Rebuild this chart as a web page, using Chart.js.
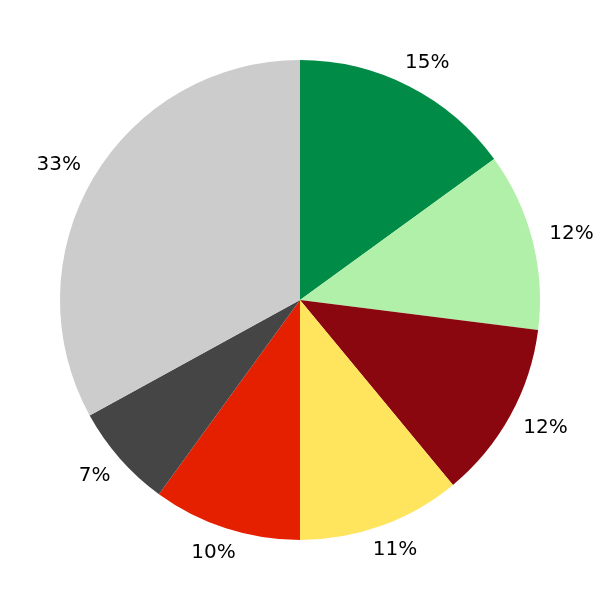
<!DOCTYPE html>
<html>
<head>
<meta charset="utf-8">
<script src="https://cdn.jsdelivr.net/npm/chart.js@4"></script>
<style>
  html, body { margin:0; padding:0; background:#fff; }
  #wrap { width:600px; height:600px; }
</style>
</head>
<body>
<div id="wrap"><canvas id="pie"></canvas></div>
<script>
// valores (sentido horário a partir do topo)
const sliceLabels = ['15%', '12%', '12%', '11%', '10%', '7%', '33%'];
const sliceValues = [15, 12, 12, 11, 10, 7, 33];
const sliceColors = ['#008c46', '#b0f0a8', '#8b0710', '#ffe45e', '#e52000', '#454545', '#cccccc'];

// rótulos fora da pizza: a caixa do texto encosta num círculo um pouco maior
const outsideLabels = {
  id: 'outsideLabels',
  afterDatasetsDraw(chart){
    const ctx = chart.ctx;
    const meta = chart.getDatasetMeta(0);
    ctx.save();
    ctx.font = '20px "DejaVu Sans"';
    ctx.fillStyle = '#000';
    ctx.textAlign = 'center';
    ctx.textBaseline = 'middle';
    const h = 16;
    meta.data.forEach((arc, i) => {
      const p = arc.getProps(['x','y','startAngle','endAngle','outerRadius'], true);
      const mid = (p.startAngle + p.endAngle) / 2;
      const r = p.outerRadius * 1.075;
      const w = ctx.measureText(sliceLabels[i]).width;
      const x = p.x + Math.cos(mid) * r + Math.cos(mid) * w / 2;
      const y = p.y + Math.sin(mid) * r + Math.sin(mid) * h / 2;
      ctx.fillText(sliceLabels[i], x, y);
    });
    ctx.restore();
  }
};

new Chart(document.getElementById('pie'), {
  type: 'pie',
  data: {
    labels: sliceLabels,
    datasets: [{ data: sliceValues, backgroundColor: sliceColors, borderWidth: 0 }]
  },
  options: {
    responsive: true,
    maintainAspectRatio: false,
    animation: false,
    layout: { padding: 60 },
    plugins: { legend: { display: false }, tooltip: { enabled: false } }
  },
  plugins: [outsideLabels]
});
</script>
</body>
</html>
